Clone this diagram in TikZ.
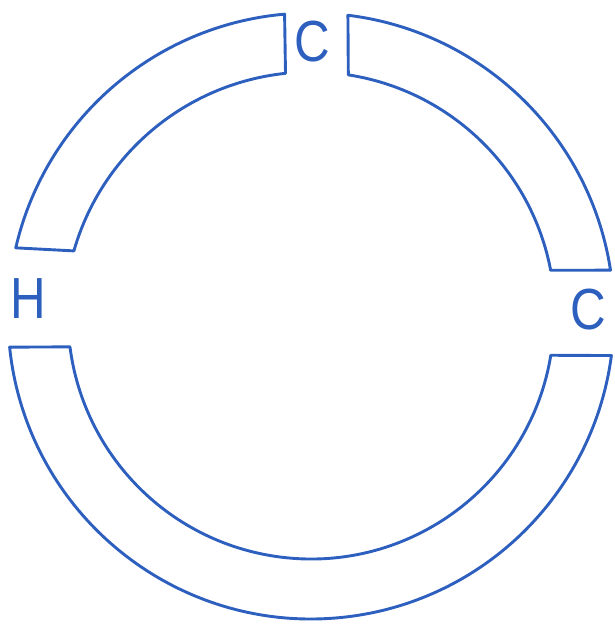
\documentclass[tikz,border=0pt]{standalone}
\usepackage{fontspec}
\setmainfont{Liberation Sans}
\definecolor{ink}{RGB}{45,95,190}
\begin{document}
\begin{tikzpicture}[x=1pt,y=1pt,
  seg/.style={draw=ink,line width=2.9pt,line join=round,line cap=round},
  lbl/.style={text=ink,font=\fontsize{58}{58}\selectfont,inner sep=0pt,xscale=0.85}]
\useasboundingbox (0,0) rectangle (615,625);
\coordinate (o) at (311,309);
% top-left segment
\draw[seg] ([shift={(167:303)}]o) arc[start angle=167,end angle=95,radius=303]
  -- ([shift={(96:244)}]o) arc[start angle=96,end angle=164,radius=247] -- cycle;
% top-right segment
\draw[seg] ([shift={(83:303)}]o) arc[start angle=83,end angle=8.7,radius=303]
  -- ([shift={(10.8:244)}]o) arc[start angle=10.8,end angle=81.2,radius=244] -- cycle;
% bottom segment
\draw[seg] ([shift={(185.9:303)}]o) arc[start angle=185.9,end angle=352.5,radius=303]
  -- ([shift={(350.7:243)}]o) arc[start angle=350.7,end angle=187.3,radius=243] -- cycle;
\node[lbl] (h) at (28,326) {H};
\node[lbl] (ct) at (312,583) {C};
\node[lbl] (cr) at (588,315) {C};
\end{tikzpicture}
\end{document}
